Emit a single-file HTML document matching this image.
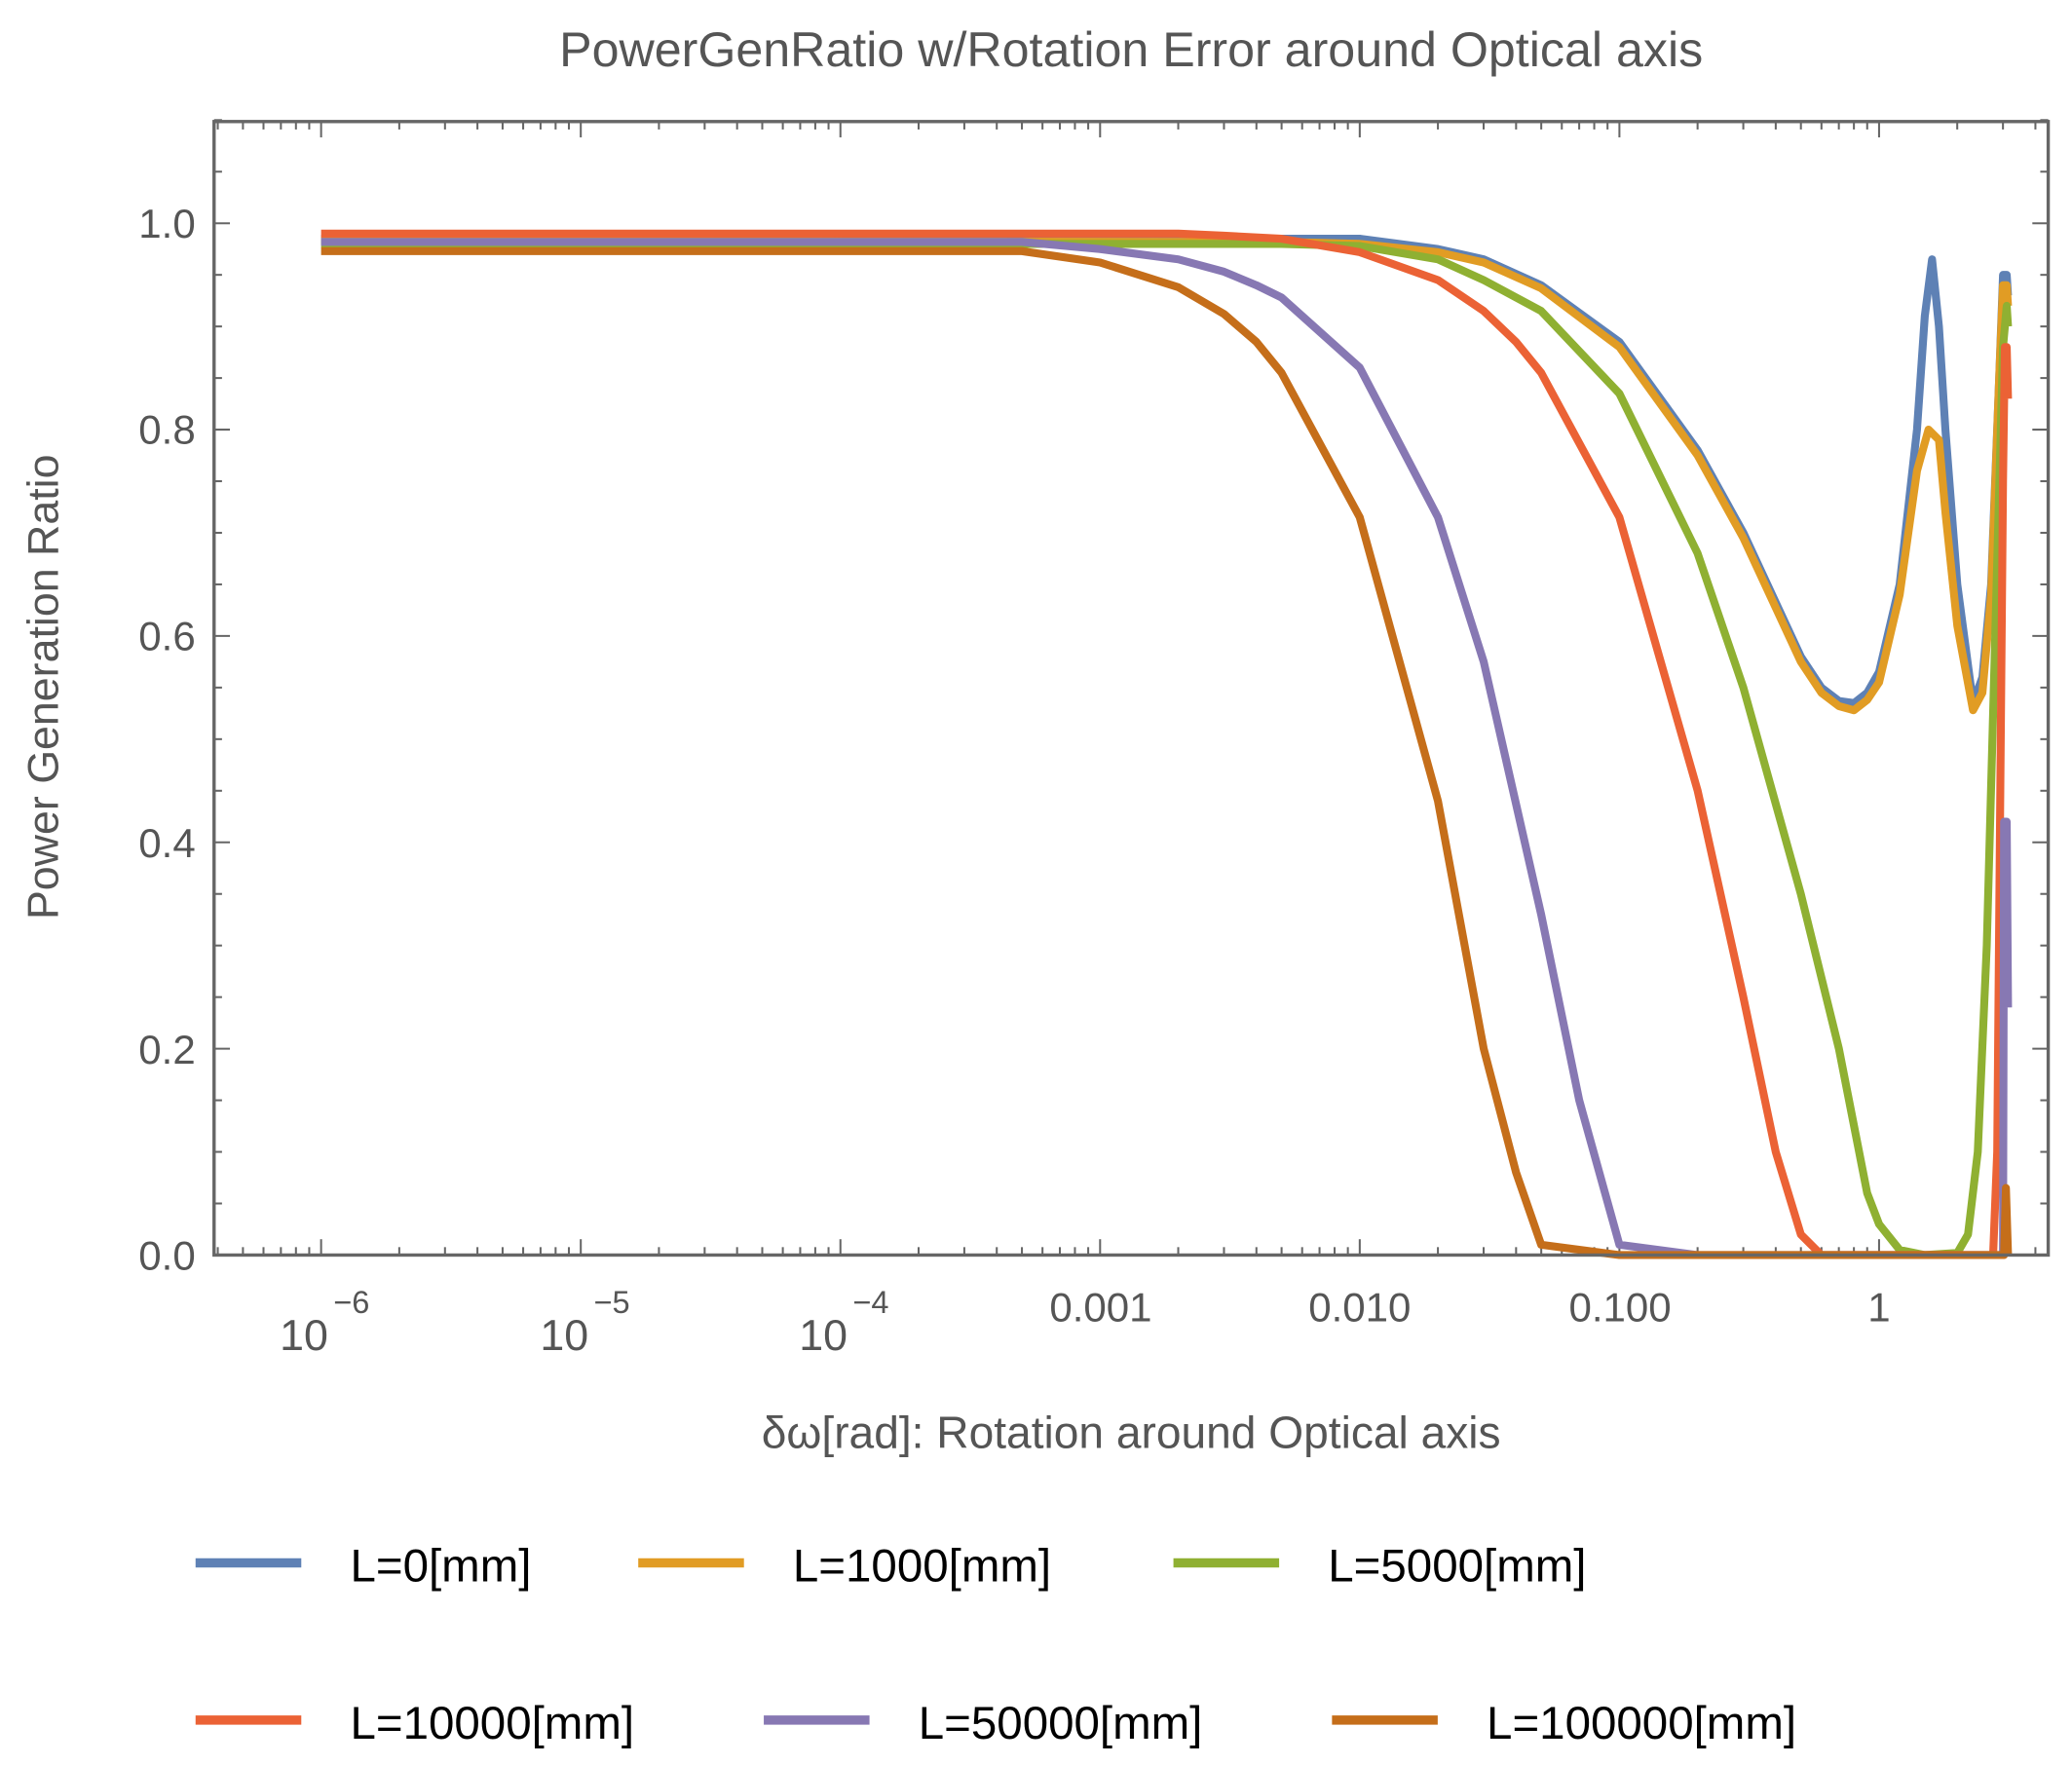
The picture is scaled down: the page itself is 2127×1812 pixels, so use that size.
<!DOCTYPE html>
<html><head><meta charset="utf-8"><style>
html,body{margin:0;padding:0;background:#fff;}
svg{display:block;}
text{font-family:"Liberation Sans","DejaVu Sans",sans-serif;}
</style></head><body>
<svg id="s" width="2127" height="1812" viewBox="0 0 1568 1336" preserveAspectRatio="none" xmlns="http://www.w3.org/2000/svg">
<rect width="1568" height="1336" fill="#fff"/>
<text x="856" y="50" font-size="37" fill="#555" text-anchor="middle">PowerGenRatio w/Rotation Error around Optical axis</text>
<text transform="translate(44,520) rotate(-90)" font-size="33" fill="#555" text-anchor="middle">Power Generation Ratio</text>
<g font-size="31" fill="#555" text-anchor="end">
<text x="148" y="961">0.0</text>
<text x="148" y="805">0.2</text>
<text x="148" y="649">0.4</text>
<text x="148" y="492">0.6</text>
<text x="148" y="336">0.8</text>
<text x="148" y="180">1.0</text>
</g>
<g font-size="33" fill="#555" text-anchor="middle">
<text x="230" y="1022">10</text><text x="266" y="994" font-size="24">−6</text>
<text x="427" y="1022">10</text><text x="463" y="994" font-size="24">−5</text>
<text x="623" y="1022">10</text><text x="659" y="994" font-size="24">−4</text>
<text x="833" y="1000" font-size="31">0.001</text>
<text x="1029" y="1000" font-size="31">0.010</text>
<text x="1226" y="1000" font-size="31">0.100</text>
<text x="1422" y="1000" font-size="31">1</text>
</g>
<text x="856" y="1096" font-size="34" fill="#555" text-anchor="middle">δω[rad]: Rotation around Optical axis</text>
<g id="ticks" stroke="#666" stroke-width="1.5"></g>
<g id="curves" fill="none" stroke-width="6" stroke-linejoin="round"></g>
<rect x="162" y="92" width="1388" height="858" fill="none" stroke="#666" stroke-width="2.5"/>
<g stroke-width="7">
<line x1="148" y1="1183" x2="228" y2="1183" stroke="#5E81B5"/>
<line x1="483" y1="1183" x2="563" y2="1183" stroke="#E19C24"/>
<line x1="888" y1="1183" x2="968" y2="1183" stroke="#8FB032"/>
<line x1="148" y1="1302" x2="228" y2="1302" stroke="#EB6235"/>
<line x1="578" y1="1302" x2="658" y2="1302" stroke="#8778B3"/>
<line x1="1008" y1="1302" x2="1088" y2="1302" stroke="#C56E1A"/>
</g>
<g font-size="35" fill="#000">
<text x="265" y="1197">L=0[mm]</text>
<text x="600" y="1197">L=1000[mm]</text>
<text x="1005" y="1197">L=5000[mm]</text>
<text x="265" y="1316">L=10000[mm]</text>
<text x="695" y="1316">L=50000[mm]</text>
<text x="1125" y="1316">L=100000[mm]</text>
</g>
</svg>
<script>
var NS="http://www.w3.org/2000/svg";
function X(v){return 1422+196.5*Math.log10(v);}
function Y(v){return 950-781*v;}
var t=document.getElementById("ticks"),h="";
for(var d=-7;d<=0;d++)for(var m=1;m<=9;m++){var v=m*Math.pow(10,d),x=X(v);if(x<163||x>1549)continue;var L=m==1?12:6;
h+='<line x1="'+x+'" y1="950" x2="'+x+'" y2="'+(950-L)+'"/><line x1="'+x+'" y1="92" x2="'+x+'" y2="'+(92+L)+'"/>';}
for(var i=0;i<=22;i++){var y=Y(i*0.05),L=i%4==0?12:6;
h+='<line x1="162" y1="'+y+'" x2="'+(162+L)+'" y2="'+y+'"/><line x1="1550" y1="'+y+'" x2="'+(1550-L)+'" y2="'+y+'"/>';}
t.innerHTML=h;
var C=[
["#5E81B5",[[1e-6,.985],[.005,.985],[.01,.985],[.02,.975],[.03,.965],[.05,.94],[.1,.885],[.2,.78],[.3,.70],[.5,.58],[.6,.55],[.7,.537],[.8,.535],[.9,.545],[1,.565],[1.2,.65],[1.4,.80],[1.5,.91],[1.6,.965],[1.7,.9],[1.8,.80],[2,.65],[2.3,.535],[2.5,.56],[2.7,.65],[2.9,.85],[3,.95],[3.1,.95],[3.14,.93]]],
["#E19C24",[[1e-6,.983],[.005,.982],[.01,.98],[.02,.972],[.03,.962],[.05,.937],[.1,.88],[.2,.775],[.3,.695],[.5,.575],[.6,.545],[.7,.532],[.8,.528],[.9,.538],[1,.555],[1.2,.64],[1.4,.76],[1.55,.80],[1.7,.79],[1.8,.72],[2,.61],[2.3,.528],[2.5,.545],[2.7,.64],[2.9,.85],[3,.94],[3.1,.94],[3.14,.92]]],
["#8FB032",[[1e-6,.98],[.005,.98],[.01,.978],[.02,.965],[.03,.945],[.05,.915],[.1,.835],[.2,.68],[.3,.55],[.5,.35],[.7,.2],[.9,.06],[1,.03],[1.2,.005],[1.5,0],[2,.002],[2.2,.02],[2.4,.1],[2.6,.3],[2.8,.6],[3,.88],[3.1,.92],[3.14,.9]]],
["#EB6235",[[1e-6,.99],[.002,.99],[.003,.988],[.005,.985],[.01,.972],[.02,.945],[.03,.915],[.04,.885],[.05,.855],[.1,.715],[.2,.45],[.3,.25],[.4,.1],[.5,.02],[.6,0],[2.75,0],[2.85,.1],[2.92,.4],[3,.75],[3.05,.88],[3.1,.88],[3.14,.83]]],
["#8778B3",[[1e-6,.982],[.0005,.982],[.001,.975],[.002,.965],[.003,.953],[.004,.94],[.005,.928],[.01,.86],[.02,.715],[.03,.575],[.05,.33],[.07,.15],[.1,.01],[.2,0],[3,0],[3.03,.42],[3.1,.42],[3.14,.24]]],
["#C56E1A",[[1e-6,.973],[.0005,.973],[.001,.962],[.002,.938],[.003,.912],[.004,.885],[.005,.855],[.01,.715],[.02,.44],[.03,.2],[.04,.08],[.05,.01],[.1,0],[3.03,0],[3.08,.065],[3.14,0]]]
];
var g=document.getElementById("curves");
C.forEach(function(c){var p=document.createElementNS(NS,"polyline");
p.setAttribute("points",c[1].map(function(q){return X(q[0]).toFixed(1)+","+Y(q[1]).toFixed(1);}).join(" "));
p.setAttribute("stroke",c[0]);g.appendChild(p);});
</script>
</body></html>
